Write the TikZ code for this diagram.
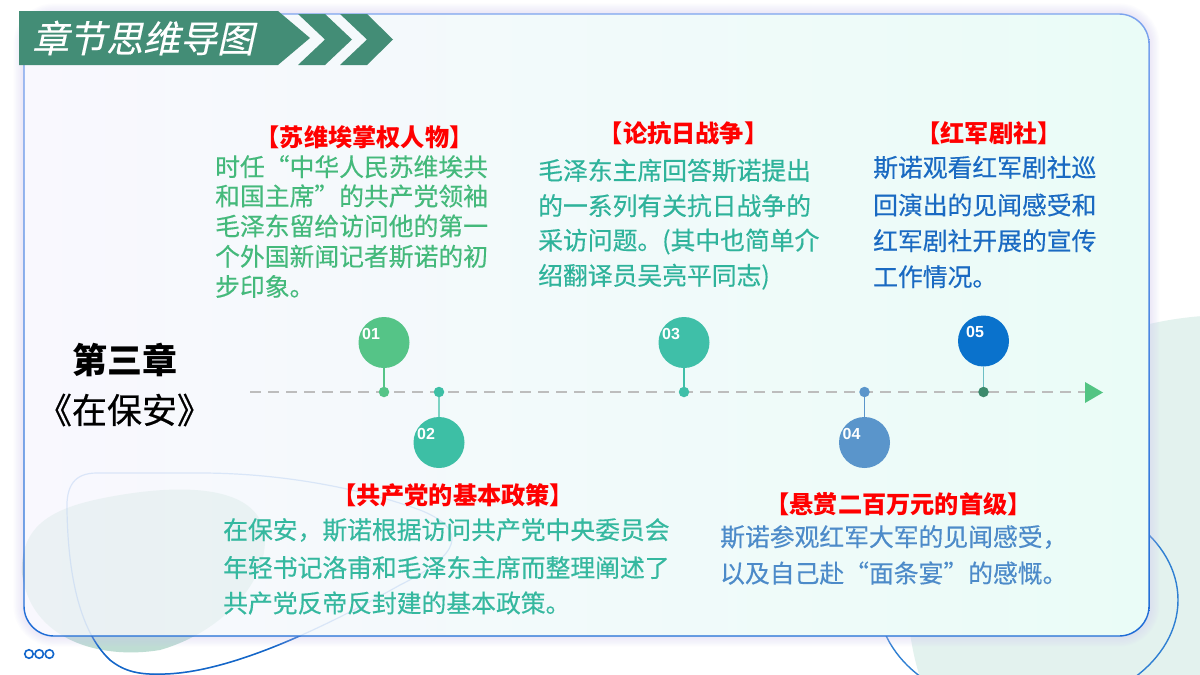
\documentclass[tikz,border=0pt]{standalone}
\usepackage{fontspec}
\setmainfont{Liberation Sans}
\newfontfamily\cjk{Noto Sans CJK SC}
\newfontfamily\cjkm[FakeBold=0.4]{Noto Sans CJK SC}
\newfontfamily\cjkit[FakeSlant=0.22,FakeBold=0.3]{Noto Sans CJK SC}
\definecolor{bannergreen}{HTML}{438D76}
\definecolor{rgreen}{HTML}{E3F2EE}
\definecolor{rblue}{HTML}{2F7FD2}
\definecolor{blobtop}{HTML}{DCE9E6}
\definecolor{blobbot}{HTML}{BCDCD2}
\definecolor{olight}{HTML}{B7CFF2}
\definecolor{odark}{HTML}{1466C8}
\definecolor{cardL}{HTML}{F9F8FE}
\definecolor{cardR}{HTML}{EAFCF7}
\definecolor{borderlight}{HTML}{7CA3EE}
\definecolor{borderdark}{HTML}{1E6CD6}
\definecolor{glow}{HTML}{CFC6F5}
\definecolor{tlgray}{HTML}{BDBDBD}
\definecolor{arrowgreen}{HTML}{52C483}
\definecolor{cA}{HTML}{55C487}
\definecolor{cB}{HTML}{3DBFA5}
\definecolor{cC}{HTML}{3FBFA8}
\definecolor{cD}{HTML}{5A95CB}
\definecolor{cE}{HTML}{0A72CC}
\definecolor{dE}{HTML}{3C8A6C}
\definecolor{sB}{HTML}{7DD3C3}
\definecolor{sE}{HTML}{6DBFC5}
\definecolor{tA}{HTML}{44B97B}
\definecolor{tB}{HTML}{35B89F}
\definecolor{tC}{HTML}{2FB39B}
\definecolor{tD}{HTML}{4D8BC9}
\definecolor{tE}{HTML}{1A6AC2}
\definecolor{ttlred}{HTML}{FF0000}
\definecolor{dotsblue}{HTML}{1166CC}
\begin{document}
\begin{tikzpicture}[x=1pt,y=-1pt,
  circ/.style={circle,minimum size=51pt,inner sep=0pt},
  dotn/.style={circle,minimum size=10.5pt,inner sep=0pt},
  stem/.style={line width=1.5pt},
  num/.style={text=white,font=\bfseries\fontsize{16}{16}\selectfont,inner sep=0pt},
  ttl/.style={text=ttlred,inner sep=0pt,font=\cjk\bfseries\fontsize{24.2}{24}\selectfont},
  bodytext/.style={anchor=west,inner sep=0pt,font=\cjkm\fontsize{24.8}{30}\selectfont},
  smallc/.style={circle,draw=dotsblue,line width=1.6pt,minimum size=8.5pt,inner sep=0pt},
  cardpath/.style={rounded corners=30pt}]
\useasboundingbox (0,0) rectangle (1200,675);
\fill[white] (0,0) rectangle (1200,675);
% right decorations
\fill[rgreen] (1230,600) ellipse [x radius=322, y radius=285];
\draw[rblue,line width=1.4pt] (1028,600) ellipse [x radius=150, y radius=110];
% bottom-left decorations
\def\blobpath{(22,573) .. controls (20,520) and (60,505) .. (120,495) .. controls (180,485) and (250,485) .. (263,527) .. controls (275,570) and (230,630) .. (160,650) .. controls (100,660) and (30,640) .. (22,573) -- cycle}
\def\outlinepath{(97,473) .. controls (75,473) and (66,485) .. (67,510) .. controls (68,570) and (78,630) .. (110,660) .. controls (125,672) and (140,675) .. (165,674) .. controls (230,672) and (320,630) .. (400,585) .. controls (460,555) and (470,530) .. (420,510) .. controls (360,488) and (280,473) .. (200,473) -- cycle}
\shade[top color=blobtop,bottom color=blobbot] \blobpath;
\draw[olight,line width=1.3pt] \outlinepath;
\begin{scope}
\clip (0,580) rectangle (1200,675);
\draw[odark,line width=1.5pt] \outlinepath;
\end{scope}
% card glow
\foreach \i in {1,...,8}{
  \draw[glow,line width=\i*2.6pt,opacity=0.05,cardpath] (24,14) rectangle (1149,636);
}
% card
\shade[left color=cardL,right color=cardR,cardpath] (24,14) rectangle (1149,636);
\begin{scope}
\clip[cardpath] (24,14) rectangle (1149,636);
\fill[blobbot,opacity=0.22] \blobpath;
\draw[olight,line width=1.2pt,opacity=0.45] \outlinepath;
\end{scope}
% card border as a shaded ring
\shade[top color=borderlight,bottom color=borderdark,even odd rule]
  [rounded corners=30.7pt] (23.3,13.3) rectangle (1149.7,636.7)
  [rounded corners=29.3pt] (24.7,14.7) rectangle (1148.3,635.3);
% three small circles
\node[smallc] (o1) at (29,654) {};
\node[smallc] (o2) at (39.2,654) {};
\node[smallc] (o3) at (49.4,654) {};
% banner
\fill[bannergreen] (19,11) -- (278,11) -- (310,38) -- (278,65) -- (19,65) -- cycle;
\fill[bannergreen] (298,14) -- (325,14) -- (352,39.5) -- (325,65) -- (298,65) -- (325,39.5) -- cycle;
\fill[bannergreen] (340,14) -- (367,14) -- (393,39.5) -- (367,65) -- (340,65) -- (367,39.5) -- cycle;
\node[text=white,inner sep=0pt,font=\cjkit\fontsize{37}{37}\selectfont] (hdr) at (143,38) {章节思维导图};
% chapter title
\node[inner sep=0pt,font=\cjk\bfseries\fontsize{35}{35}\selectfont] (ch) at (125,360) {第三章};
\node[inner sep=0pt,font=\cjkm\fontsize{35}{35}\selectfont] (bk) at (124.5,410) {《在保安》};
% timeline
\coordinate (tls) at (250,392);
\coordinate (tle) at (1085,392);
\draw[tlgray,line width=2.6pt,dash pattern=on 11pt off 7pt] (tls) -- (tle);
\fill[arrowgreen] (1085,382) -- (1103,392.5) -- (1085,403) -- cycle;
% circles and dots
\node[circ,fill=cA] (c1) at (384,342.5) {};
\node[circ,fill=cB] (c2) at (439,442.5) {};
\node[circ,fill=cC] (c3) at (684,342.5) {};
\node[circ,fill=cD] (c4) at (864.5,442.5) {};
\node[circ,fill=cE] (c5) at (983.5,341) {};
\draw[stem,cA] (c1) -- (384,392);
\draw[stem,sB] (c2) -- (439,392);
\draw[stem,cC] (c3) -- (684,392);
\draw[stem,cD] (c4) -- (864.5,392);
\draw[stem,sE] (c5) -- (983.5,392);
\node[dotn,fill=cA] (d1) at (384,392) {};
\node[dotn,fill=cB] (d2) at (439,392) {};
\node[dotn,fill=cC] (d3) at (684,392) {};
\node[dotn,fill=cD] (d4) at (864.5,392) {};
\node[dotn,fill=dE] (d5) at (983.5,392) {};
\node[num] (n1) at (371,334) {01};
\node[num] (n2) at (426,434) {02};
\node[num] (n3) at (671,334) {03};
\node[num] (n4) at (851.5,434) {04};
\node[num] (n5) at (975,332) {05};
% block 1
\node[ttl] (t1) at (364.5,137.5) {【苏维埃掌权人物】};
\node[bodytext,text=tA] (b1a) at (215,166.7) {时任“中华人民苏维埃共};
\node[bodytext,text=tA] (b1b) at (215,196) {和国主席”的共产党领袖};
\node[bodytext,text=tA] (b1c) at (215,226) {毛泽东留给访问他的第一};
\node[bodytext,text=tA] (b1d) at (215,256.5) {个外国新闻记者斯诺的初};
\node[bodytext,text=tA] (b1e) at (215,286.5) {步印象。};
% block 3
\node[ttl] (t3) at (683.5,133) {【论抗日战争】};
\node[bodytext,text=tC] (b3a) at (538,170.5) {毛泽东主席回答斯诺提出};
\node[bodytext,text=tC] (b3b) at (538,205.7) {的一系列有关抗日战争的};
\node[bodytext,text=tC] (b3c) at (538,241.5) {采访问题。(其中也简单介};
\node[bodytext,text=tC] (b3d) at (538,276.7) {绍翻译员吴亮平同志)};
% block 5
\node[ttl] (t5) at (989,133) {【红军剧社】};
\node[bodytext,text=tE] (b5a) at (873,167.5) {斯诺观看红军剧社巡};
\node[bodytext,text=tE] (b5b) at (873,205) {回演出的见闻感受和};
\node[bodytext,text=tE] (b5c) at (873,240.7) {红军剧社开展的宣传};
\node[bodytext,text=tE] (b5d) at (873,276.7) {工作情况。};
% block 2
\node[ttl] (t2) at (453,495) {【共产党的基本政策】};
\node[bodytext,text=tB] (b2a) at (223,530) {在保安，斯诺根据访问共产党中央委员会};
\node[bodytext,text=tB] (b2b) at (223,567.5) {年轻书记洛甫和毛泽东主席而整理阐述了};
\node[bodytext,text=tB] (b2c) at (223,603) {共产党反帝反封建的基本政策。};
% block 4
\node[ttl] (t4) at (898.5,504) {【悬赏二百万元的首级】};
\node[bodytext,text=tD] (b4a) at (720,537) {斯诺参观红军大军的见闻感受，};
\node[bodytext,text=tD] (b4b) at (720,573) {以及自己赴“面条宴”的感慨。};
\end{tikzpicture}
\end{document}
